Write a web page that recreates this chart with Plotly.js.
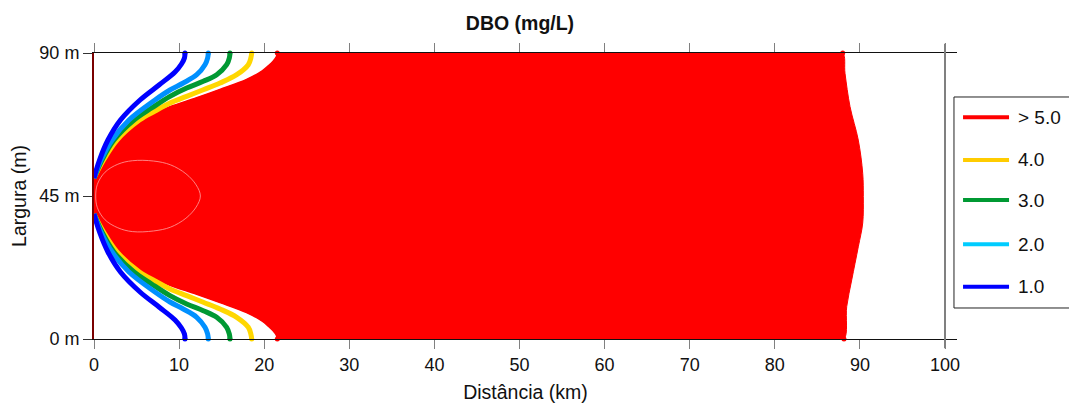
<!DOCTYPE html>
<html>
<head>
<meta charset="utf-8">
<script src="https://cdn.plot.ly/plotly-3.0.1.min.js"></script>
<style>
html,body{margin:0;padding:0;background:#fff;}
#chart{width:1069px;height:408px;}
</style>
</head>
<body>
<div id="chart"></div>
<script>
// ---- data ----
const centreY = 45;

// contour 1.0 (blue): distance (km) and half-width offset from channel centre (m)
const blueX   = [10.69,10.63,10.28,9.52,7.64,5.41,3.11,1.64,0.65,0];
const blueOff = [45.0,43.42,41.54,39.02,34.93,30.21,23.91,17.62,11.33,5.66];

// contour 2.0 (light blue)
const lblueX   = [13.43,13.35,13.04,12.07,10.49,8.93,7.17,4.11,2.12,0.82,0];
const lblueOff = [45.0,43.42,41.31,38.17,35.56,33.35,30.21,23.91,17.62,11.33,5.66];

// contour 3.0 (green)
const greenX   = [15.98,15.90,15.59,14.42,12.84,10.89,8.93,6.77,4.70,2.35,0.94,0];
const greenOff = [45.0,43.42,41.31,38.17,36.09,33.98,31.37,27.69,23.91,17.62,11.33,5.66];

// contour 4.0 (yellow)
const yellowX   = [18.53,18.43,18.13,16.77,14.81,12.84,10.89,8.93,7.17,5.34,2.70,1.12,0];
const yellowOff = [45.0,43.42,41.31,38.17,35.56,33.45,31.37,29.26,26.75,23.91,17.62,11.33,5.66];

// contour > 5.0 (red) – left boundary of the red zone
const redX   = [21.54,21.45,21.07,20.50,19.74,17.94,14.81,12.07,8.93,7.29,5.82,3.06,1.29,0];
const redOff = [45.0,43.74,42.38,40.91,39.24,36.60,33.45,30.83,28.00,26.12,23.91,17.62,11.33,5.35];

// right boundary of the red zone (top to bottom)
const redRightX = [87.98,88.25,88.84,89.81,90.33,90.40,90.33,89.81,89.04,88.45,88.13];
const redRightY = [90.0,83.6,73.1,62.6,52.1,44.8,36.5,29.0,18.6,10.2,0.0];

// inner closed contour near the outfall
const innerX = [0.2,0.4,1.3,2.8,4.5,7.0,9.0,10.8,12.0,12.5,12.0,10.8,9.0,7.0,4.5,2.8,1.3,0.4,0.2];
const innerY = [45,48.7,52.5,55,56.1,56,54.8,52,48.5,45,41.5,38,35.2,34,33.8,35,37.5,41.3,45];

// axes
const xTicks = [0,10,20,30,40,50,60,70,80,90,100];
const yTicks = [0,45,90];
const yTickText = ['0 m','45 m','90 m'];

// legend
const legendLabels = ['> 5.0','4.0','3.0','2.0','1.0'];
const legendColors = ['#ff0000','#ffcc00','#009933','#00ccff','#0000ff'];

// ---- build traces ----
function upper(off){ return off.map(o => centreY + o); }
function lower(off){ return off.map(o => centreY - o); }
function contour(xs, offs){
  const xu = xs.slice(), yu = upper(offs);
  const xl = xs.slice().reverse(), yl = lower(offs).reverse();
  return {x: xu.concat([null], xl), y: yu.concat([null], yl)};
}

const traces = [];
// red zone: left boundary, bottom edge, right boundary, top edge (smoothed path)
const nR = redRightX.length;
const polyX = [].concat(
  redX, redX.slice().reverse(),
  [redX[0] + 1.5, redRightX[nR-1] - 1.5],
  redRightX.slice().reverse(),
  [redRightX[0] - 1.5, redX[0] + 1.5, redX[0]]);
const polyY = [].concat(
  upper(redOff), lower(redOff).reverse(),
  [redRightY[nR-1], redRightY[nR-1]],
  redRightY.slice().reverse(),
  [redRightY[0], redRightY[0], upper(redOff)[0]]);
traces.push({x: polyX, y: polyY, mode:'lines', fill:'toself', fillcolor:'#ff0000',
  line:{color:'#ff0000', width:1, shape:'spline', smoothing:1}, hoverinfo:'skip', showlegend:false});
traces.push({x: innerX, y: innerY, mode:'lines', line:{color:'rgba(255,150,150,0.85)', width:1, shape:'spline', smoothing:1},
  hoverinfo:'skip', showlegend:false});

const plotColors = {yellow:'#ffd700', green:'#009933', lblue:'#0090ff', blue:'#0000ff', red:'#ff0000'};
const cRed = contour(redX, redOff);
traces.push({x:cRed.x, y:cRed.y, mode:'lines', line:{color:plotColors.red, width:2, shape:'spline', smoothing:1},
  showlegend:false, hoverinfo:'skip'});
// small round caps of the > 5.0 contour on the frame
traces.push({x:[redX[0], redX[0], redRightX[0], redRightX[nR-1]],
  y:[upper(redOff)[0], lower(redOff)[0], redRightY[0], redRightY[nR-1]],
  mode:'markers', marker:{color:plotColors.red, size:5}, cliponaxis:false, showlegend:false, hoverinfo:'skip'});

[[yellowX,yellowOff,plotColors.yellow],[greenX,greenOff,plotColors.green],[lblueX,lblueOff,plotColors.lblue],[blueX,blueOff,plotColors.blue]]
.forEach(([xs,offs,col]) => {
  const c = contour(xs, offs);
  traces.push({x:c.x, y:c.y, mode:'lines', line:{color:col, width:5, shape:'spline', smoothing:1},
    showlegend:false, hoverinfo:'skip'});
  traces.push({x:[xs[0], xs[0]], y:[upper(offs)[0], lower(offs)[0]], mode:'markers',
    marker:{color:col, size:5}, cliponaxis:false, showlegend:false, hoverinfo:'skip'});
});

// ---- layout ----
const fontFam = '"Liberation Sans", Arial, Helvetica, sans-serif';
const shapes = [];
const annotations = [];

// gray vertical line at x = 100 extending past the frame
shapes.push({type:'line', xref:'x', yref:'paper', x0:100, x1:100, y0:-0.032, y1:1.032,
  line:{color:'#808080', width:2}});

// custom legend
const lgLeft = 0.9965, lgRight = 1.15, lgBottom = 0.1084, lgTop = 0.8462;
shapes.push({type:'rect', xref:'paper', yref:'paper', x0:lgLeft, x1:lgRight, y0:lgBottom, y1:lgTop,
  line:{color:'#222', width:1}, fillcolor:'rgba(255,255,255,0)'});
const rowY = [0.7752,0.6259,0.4860,0.3311,0.1829];
legendLabels.forEach((lab,i) => {
  shapes.push({type:'line', xref:'paper', yref:'paper', x0:1.0070, x1:1.0603, y0:rowY[i], y1:rowY[i],
    line:{color:legendColors[i], width:4}});
  annotations.push({xref:'paper', yref:'paper', x:1.0685, y:rowY[i], xanchor:'left', yanchor:'middle',
    text:lab, showarrow:false, font:{family:fontFam, size:19, color:'#111'}});
});

const layout = {
  width:1069, height:408,
  margin:{l:94, r:112, t:53, b:69},
  paper_bgcolor:'#fff', plot_bgcolor:'#fff',
  font:{family:fontFam, size:18, color:'#111'},
  title:{text:'<b>DBO (mg/L)</b>', x:0.4864, xref:'container', y:0.944, yref:'container',
    xanchor:'center', yanchor:'middle', font:{family:fontFam, size:19.5, color:'#111'}},
  xaxis:{range:[0,101.41], tickvals:xTicks, ticks:'outside', ticklen:9, tickcolor:'#808080', tickwidth:1,
    showline:true, linecolor:'#111', linewidth:1, mirror:'allticks', showgrid:false, zeroline:false,
    tickfont:{size:18}, title:{text:'Distância (km)', font:{size:19.5}, standoff:11}},
  yaxis:{range:[0,90], tickvals:yTicks, ticktext:yTickText, ticks:'outside', ticklen:9, tickcolor:'#333',
    showline:true, linecolor:'#7a0000', linewidth:2, mirror:false, showgrid:false, zeroline:false,
    tickfont:{size:18}, title:{text:'Largura (m)', font:{size:19.5}, standoff:8}},
  showlegend:false,
  shapes:shapes, annotations:annotations
};

Plotly.newPlot('chart', traces, layout, {displayModeBar:false, staticPlot:true});
</script>
</body>
</html>
